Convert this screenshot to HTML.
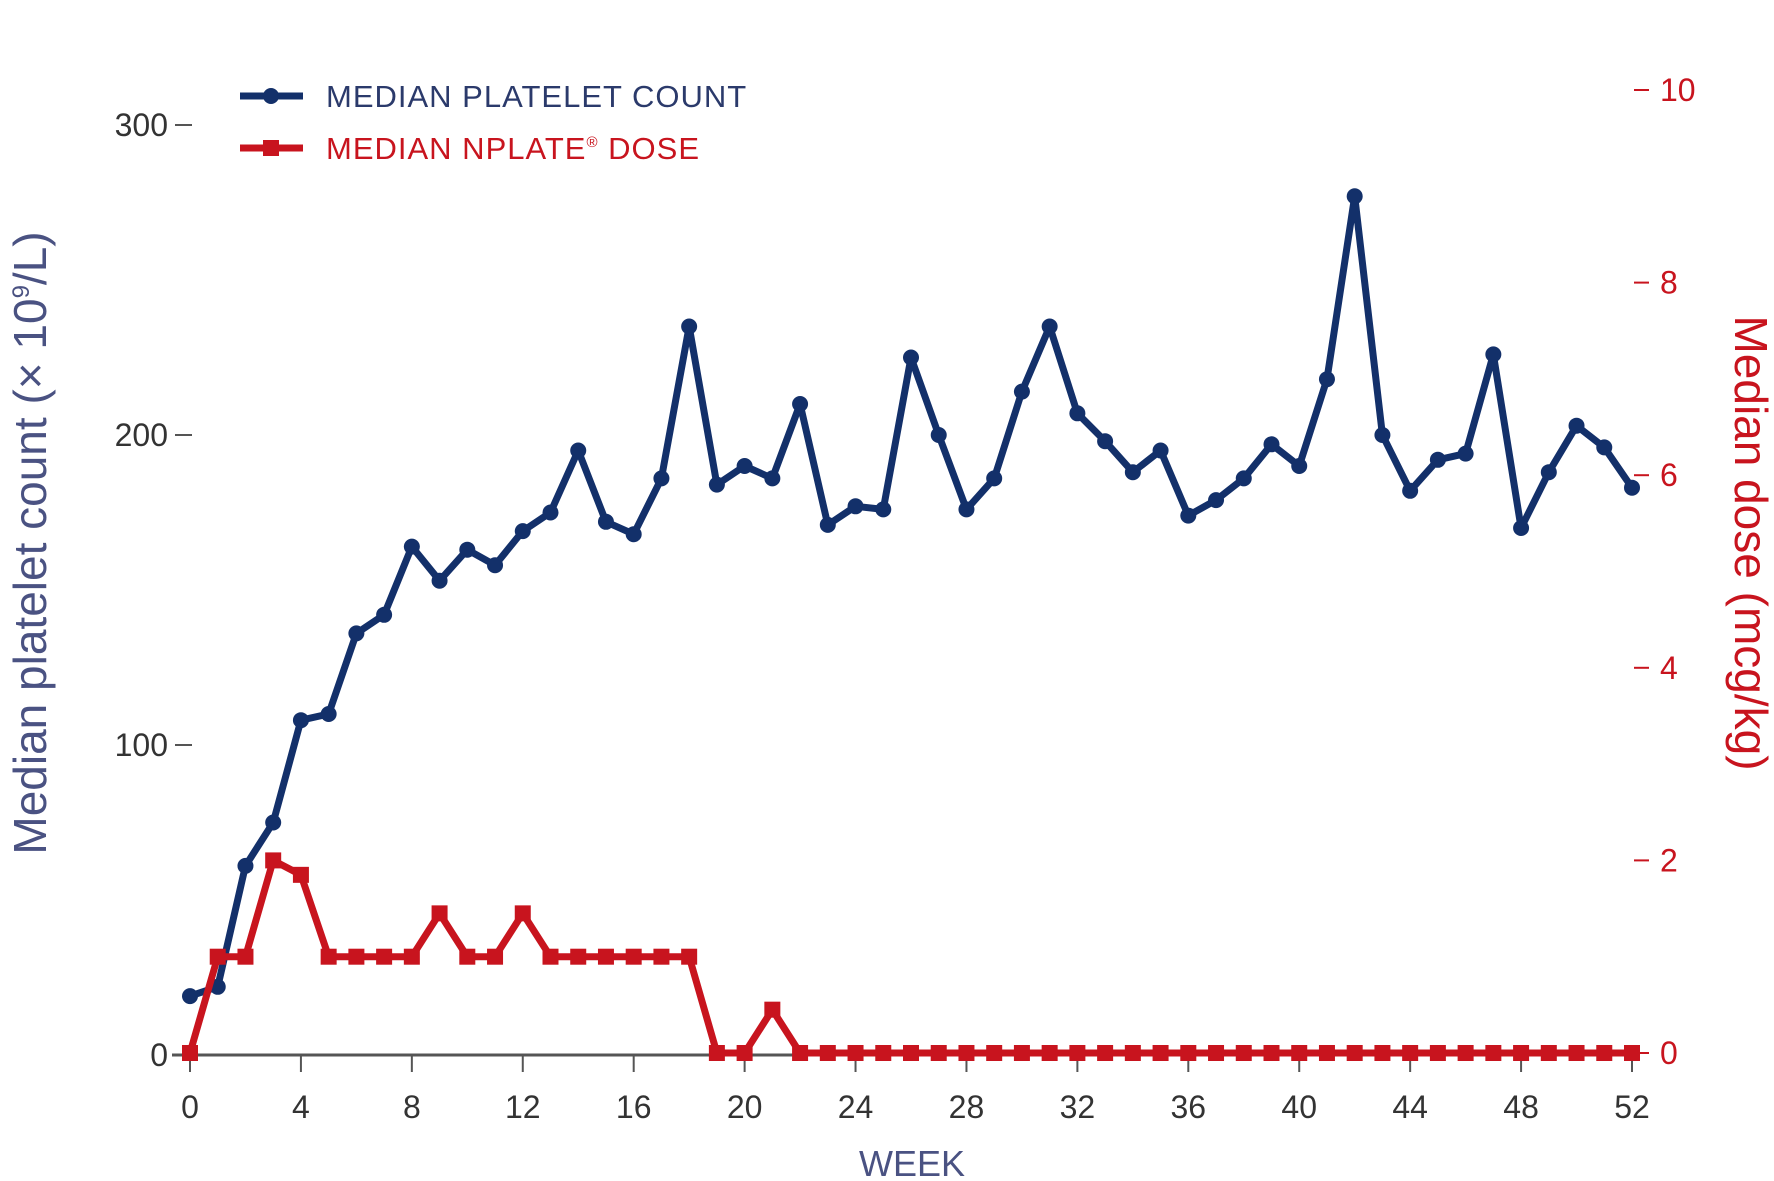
<!DOCTYPE html>
<html><head><meta charset="utf-8"><style>
body{margin:0;background:#fff}
svg{display:block}
text{font-family:"Liberation Sans",sans-serif}
</style></head><body>
<svg id="chart" width="1774" height="1181" viewBox="0 0 1774 1181">
<g id="axes"></g>
<g id="series"></g>
<g>
 <g>
  <line x1="240" y1="96" x2="303" y2="96" stroke="#13306a" stroke-width="7"/>
  <circle cx="271" cy="96" r="8" fill="#13306a"/>
  <text x="326" y="107" font-size="31" letter-spacing="1" fill="#2b3a6b">MEDIAN PLATELET COUNT</text>
 </g>
 <g>
  <line x1="240" y1="148" x2="303" y2="148" stroke="#c8141e" stroke-width="7"/>
  <rect x="263" y="140" width="16" height="16" fill="#c8141e"/>
  <text x="326" y="159" font-size="31" letter-spacing="1" fill="#c8141e">MEDIAN NPLATE<tspan font-size="15" dy="-12">®</tspan><tspan dy="12"> DOSE</tspan></text>
 </g>
</g>
<text transform="translate(46,543) rotate(-90)" text-anchor="middle" font-size="46" fill="#4a5282">Median platelet count (× 10<tspan font-size="24" dy="-17">9</tspan><tspan dy="17">/L)</tspan></text>
<text transform="translate(1735,543) rotate(90)" text-anchor="middle" font-size="46" fill="#c8141e">Median dose (mcg/kg)</text>
<text x="912" y="1176" text-anchor="middle" font-size="36" fill="#4a5282">WEEK</text>
</svg>
<script>
const weeks=[];for(let i=0;i<=52;i++)weeks.push(i);
const platelet=[19,22,61,75,108,110,136,142,164,153,163,158,169,175,195,172,168,186,235,184,190,186,210,171,177,176,225,200,176,186,214,235,207,198,188,195,174,179,186,197,190,218,277,200,182,192,194,226,170,188,203,196,183];
const dose=[0,1,1,2,1.85,1,1,1,1,1.45,1,1,1.45,1,1,1,1,1,1,0,0,0.45,0,0,0,0,0,0,0,0,0,0,0,0,0,0,0,0,0,0,0,0,0,0,0,0,0,0,0,0,0,0,0];
const xTicks=[0,4,8,12,16,20,24,28,32,36,40,44,48,52];
const leftTicks=[0,100,200,300];
const rightTicks=[0,2,4,6,8,10];
const NS="http://www.w3.org/2000/svg";
const X=w=>190+w*(1632-190)/52;
const YL=v=>1055-v*3.1;
const YR=v=>1053-v*96.3;
const axes=document.getElementById('axes'),ser=document.getElementById('series');
function mk(tag,at,parent){const e=document.createElementNS(NS,tag);for(const k in at)e.setAttribute(k,at[k]);parent.appendChild(e);return e;}
let ax=mk('line',{x1:172,y1:1055,x2:1640,y2:1055,stroke:'#555','stroke-width':3},axes);


xTicks.forEach(t=>{
 let l=mk('line',{x1:X(t),y1:1055,x2:X(t),y2:1072,stroke:'#555','stroke-width':2},axes);
 
 
 let tx=mk('text',{x:X(t),y:1118,'text-anchor':'middle','font-size':32,fill:'#333'},axes);tx.textContent=t;
 
 
});
leftTicks.forEach(t=>{
 let l=mk('line',{x1:175,y1:YL(t),x2:192,y2:YL(t),stroke:'#555','stroke-width':2},axes);
 
 
 let tx=mk('text',{x:168,y:YL(t)+11,'text-anchor':'end','font-size':32,fill:'#333'},axes);tx.textContent=t;
 
 
});
rightTicks.forEach(t=>{
 let l=mk('line',{x1:1634,y1:YR(t),x2:1649,y2:YR(t),stroke:'#c8141e','stroke-width':2},axes);
 
 
 let tx=mk('text',{x:1660,y:YR(t)+11,'font-size':32,fill:'#c8141e'},axes);tx.textContent=t;
 
 
});
let pp=mk('polyline',{points:weeks.map(w=>X(w)+','+YL(platelet[w])).join(' '),fill:'none',stroke:'#13306a','stroke-width':7,'stroke-linejoin':'round'},ser);


weeks.forEach(w=>{let c=mk('circle',{cx:X(w),cy:YL(platelet[w]),r:8,fill:'#13306a'},ser);
 
 });
let dp=mk('polyline',{points:weeks.map(w=>X(w)+','+YR(dose[w])).join(' '),fill:'none',stroke:'#c8141e','stroke-width':7,'stroke-linejoin':'miter'},ser);


weeks.forEach(w=>{let r=mk('rect',{x:X(w)-8,y:YR(dose[w])-8,width:16,height:16,fill:'#c8141e'},ser);
 
 });
</script>
</body></html>
